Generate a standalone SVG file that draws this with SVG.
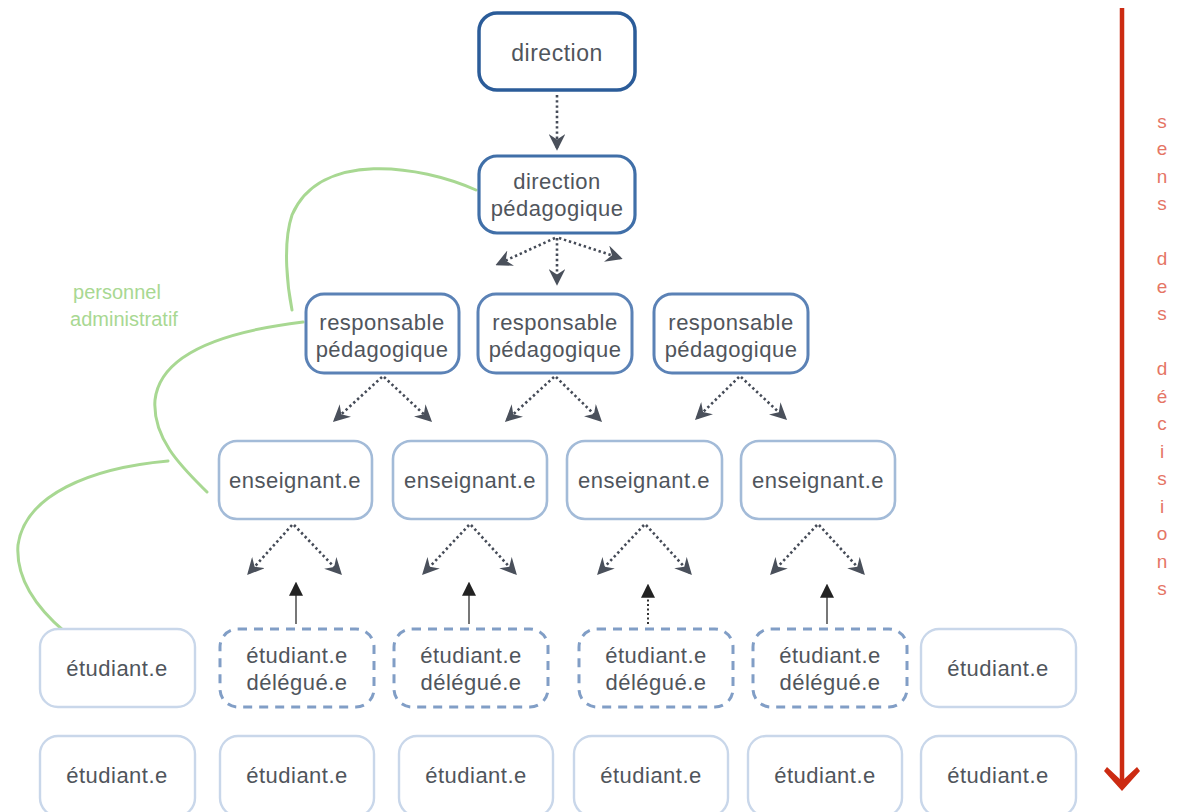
<svg xmlns="http://www.w3.org/2000/svg" width="1177" height="812" viewBox="0 0 1177 812">
  <style>
    .t { font-family: "Liberation Sans", Arial, sans-serif; font-size: 22px; fill: #50555c; text-anchor: middle; letter-spacing: 0.5px; }
    .box { fill: #ffffff; }
    .b0 { stroke: #2b5c99; stroke-width: 3.5; }
    .b1 { stroke: #406fa8; stroke-width: 3.2; }
    .b2 { stroke: #5b82b6; stroke-width: 3; }
    .b3 { stroke: #a3bbd8; stroke-width: 2.6; }
    .b4 { stroke: #c9d7ea; stroke-width: 2.4; }
    .bd { stroke: #819ec6; stroke-width: 3; stroke-dasharray: 9 7; }
    .dot { fill: none; stroke: #454b57; stroke-width: 2.6; stroke-dasharray: 2.4 2.8; marker-end: url(#ah); }
    .up { fill: none; stroke: #777; stroke-width: 2; marker-end: url(#ahup); }
    .green { fill: none; stroke: #a8d892; stroke-width: 3; stroke-linecap: round; }
    .gl { font-family: "Liberation Sans", Arial, sans-serif; font-size: 20px; fill: #a8d892; text-anchor: middle; }
    .rl { font-family: "Liberation Sans", Arial, sans-serif; font-size: 19px; fill: #e57565; text-anchor: middle; }
  </style>
  <defs>
    <marker id="ah" viewBox="0 0 12 12" refX="10" refY="6" markerWidth="6.5" markerHeight="6.5" orient="auto" markerUnits="strokeWidth">
      <path d="M0,0 L12,6 L0,12 L4,6 z" fill="#4a505b"/>
    </marker>
    <marker id="ahup" viewBox="0 0 12 12" refX="10" refY="6" markerWidth="7" markerHeight="7" orient="auto" markerUnits="strokeWidth">
      <path d="M0,0 L12,6 L0,12 z" fill="#222"/>
    </marker>
  </defs>

  <!-- green "personnel administratif" curves and label -->
  <g id="personnel-administratif">
    <path class="green" d="M476,190 C420,165 320,150 292,215 C282,245 288,290 292,310"/>
    <path class="green" d="M303,322 C220,332 160,355 155,400 C152,440 185,470 207,492"/>
    <path class="green" d="M168,461 C90,468 25,495 18,545 C15,585 45,615 65,632"/>
    <text class="gl" x="117" y="299">personnel</text>
    <text class="gl" x="124" y="326">administratif</text>
  </g>

  <!-- connectors -->
  <g id="connectors">
    <line class="dot" x1="557" y1="95" x2="557" y2="148"/>
    <line class="dot" x1="555" y1="238" x2="498" y2="264"/>
    <line class="dot" x1="557" y1="238" x2="557" y2="283"/>
    <line class="dot" x1="559" y1="238" x2="620" y2="258"/>

    <line class="dot" x1="382" y1="377" x2="335" y2="420"/>
    <line class="dot" x1="384" y1="377" x2="430" y2="420"/>
    <line class="dot" x1="554" y1="377" x2="507" y2="420"/>
    <line class="dot" x1="556" y1="377" x2="600" y2="420"/>
    <line class="dot" x1="739" y1="377" x2="697" y2="418"/>
    <line class="dot" x1="741" y1="377" x2="785" y2="418"/>

    <line class="dot" x1="292" y1="525" x2="249" y2="573"/>
    <line class="dot" x1="294" y1="525" x2="340" y2="573"/>
    <line class="dot" x1="469" y1="525" x2="424" y2="573"/>
    <line class="dot" x1="471" y1="525" x2="515" y2="573"/>
    <line class="dot" x1="644" y1="525" x2="599" y2="573"/>
    <line class="dot" x1="646" y1="525" x2="690" y2="573"/>
    <line class="dot" x1="817" y1="525" x2="772" y2="573"/>
    <line class="dot" x1="819" y1="525" x2="863" y2="573"/>

    <line class="up" x1="296" y1="624" x2="296" y2="584"/>
    <line class="up" x1="469" y1="624" x2="469" y2="584"/>
    <line class="up" x1="648" y1="624" x2="648" y2="586" stroke-dasharray="2 2.5" style="stroke:#333"/>
    <line class="up" x1="827" y1="624" x2="827" y2="586"/>
  </g>

  <!-- nodes -->
  <g id="direction">
    <rect class="box b0" x="479" y="13" width="156" height="77" rx="18"/>
    <text class="t" x="557" y="61" style="font-size:23px">direction</text>
  </g>
  <g id="direction-pedagogique">
    <rect class="box b1" x="479" y="156" width="156" height="77" rx="18"/>
    <text class="t" x="557" y="189">direction</text>
    <text class="t" x="557" y="216">pédagogique</text>
  </g>

  <g id="responsable-1">
    <rect class="box b2" x="306" y="294" width="153" height="79" rx="18"/>
    <text class="t" x="382" y="330">responsable</text>
    <text class="t" x="382" y="357">pédagogique</text>
  </g>
  <g id="responsable-2">
    <rect class="box b2" x="478" y="294" width="154" height="79" rx="18"/>
    <text class="t" x="555" y="330">responsable</text>
    <text class="t" x="555" y="357">pédagogique</text>
  </g>
  <g id="responsable-3">
    <rect class="box b2" x="654" y="294" width="154" height="79" rx="18"/>
    <text class="t" x="731" y="330">responsable</text>
    <text class="t" x="731" y="357">pédagogique</text>
  </g>

  <g id="enseignant-1">
    <rect class="box b3" x="219" y="441" width="153" height="78" rx="18"/>
    <text class="t" x="295" y="488">enseignant.e</text>
  </g>
  <g id="enseignant-2">
    <rect class="box b3" x="393" y="441" width="154" height="78" rx="18"/>
    <text class="t" x="470" y="488">enseignant.e</text>
  </g>
  <g id="enseignant-3">
    <rect class="box b3" x="567" y="441" width="155" height="78" rx="18"/>
    <text class="t" x="644" y="488">enseignant.e</text>
  </g>
  <g id="enseignant-4">
    <rect class="box b3" x="741" y="441" width="154" height="78" rx="18"/>
    <text class="t" x="818" y="488">enseignant.e</text>
  </g>

  <!-- row 1 -->
  <g id="etudiant-r1-1">
    <rect class="box b4" x="40" y="629" width="155" height="78" rx="18"/>
    <text class="t" x="117" y="676">étudiant.e</text>
  </g>
  <g id="delegue-1">
    <rect class="box bd" x="220" y="629" width="154" height="78" rx="18"/>
    <text class="t" x="297" y="663">étudiant.e</text>
    <text class="t" x="297" y="690">délégué.e</text>
  </g>
  <g id="delegue-2">
    <rect class="box bd" x="394" y="629" width="154" height="78" rx="18"/>
    <text class="t" x="471" y="663">étudiant.e</text>
    <text class="t" x="471" y="690">délégué.e</text>
  </g>
  <g id="delegue-3">
    <rect class="box bd" x="579" y="629" width="154" height="78" rx="18"/>
    <text class="t" x="656" y="663">étudiant.e</text>
    <text class="t" x="656" y="690">délégué.e</text>
  </g>
  <g id="delegue-4">
    <rect class="box bd" x="753" y="629" width="154" height="78" rx="18"/>
    <text class="t" x="830" y="663">étudiant.e</text>
    <text class="t" x="830" y="690">délégué.e</text>
  </g>
  <g id="etudiant-r1-6">
    <rect class="box b4" x="921" y="629" width="155" height="78" rx="18"/>
    <text class="t" x="998" y="676">étudiant.e</text>
  </g>

  <!-- row 2 -->
  <g id="etudiant-r2-1">
    <rect class="box b4" x="40" y="736" width="155" height="80" rx="18"/>
    <text class="t" x="117" y="783">étudiant.e</text>
  </g>
  <g id="etudiant-r2-2">
    <rect class="box b4" x="220" y="736" width="154" height="80" rx="18"/>
    <text class="t" x="297" y="783">étudiant.e</text>
  </g>
  <g id="etudiant-r2-3">
    <rect class="box b4" x="399" y="736" width="154" height="80" rx="18"/>
    <text class="t" x="476" y="783">étudiant.e</text>
  </g>
  <g id="etudiant-r2-4">
    <rect class="box b4" x="574" y="736" width="154" height="80" rx="18"/>
    <text class="t" x="651" y="783">étudiant.e</text>
  </g>
  <g id="etudiant-r2-5">
    <rect class="box b4" x="748" y="736" width="154" height="80" rx="18"/>
    <text class="t" x="825" y="783">étudiant.e</text>
  </g>
  <g id="etudiant-r2-6">
    <rect class="box b4" x="921" y="736" width="155" height="80" rx="18"/>
    <text class="t" x="998" y="783">étudiant.e</text>
  </g>

  <!-- decision direction arrow -->
  <g id="sens-des-decisions">
    <line x1="1122" y1="8" x2="1122" y2="784" stroke="#cc2b12" stroke-width="4.5"/>
    <path d="M1107,767 L1122,781 L1137,767 L1140,771 L1122,791 L1104,771 z" fill="#cc2b12"/>
    <g class="rl">
      <text x="1162" y="128">s</text>
      <text x="1162" y="155">e</text>
      <text x="1162" y="183">n</text>
      <text x="1162" y="210">s</text>
      <text x="1162" y="265">d</text>
      <text x="1162" y="293">e</text>
      <text x="1162" y="320">s</text>
      <text x="1162" y="375">d</text>
      <text x="1162" y="403">é</text>
      <text x="1162" y="430">c</text>
      <text x="1162" y="458">i</text>
      <text x="1162" y="485">s</text>
      <text x="1162" y="513">i</text>
      <text x="1162" y="540">o</text>
      <text x="1162" y="568">n</text>
      <text x="1162" y="595">s</text>
    </g>
  </g>
</svg>
